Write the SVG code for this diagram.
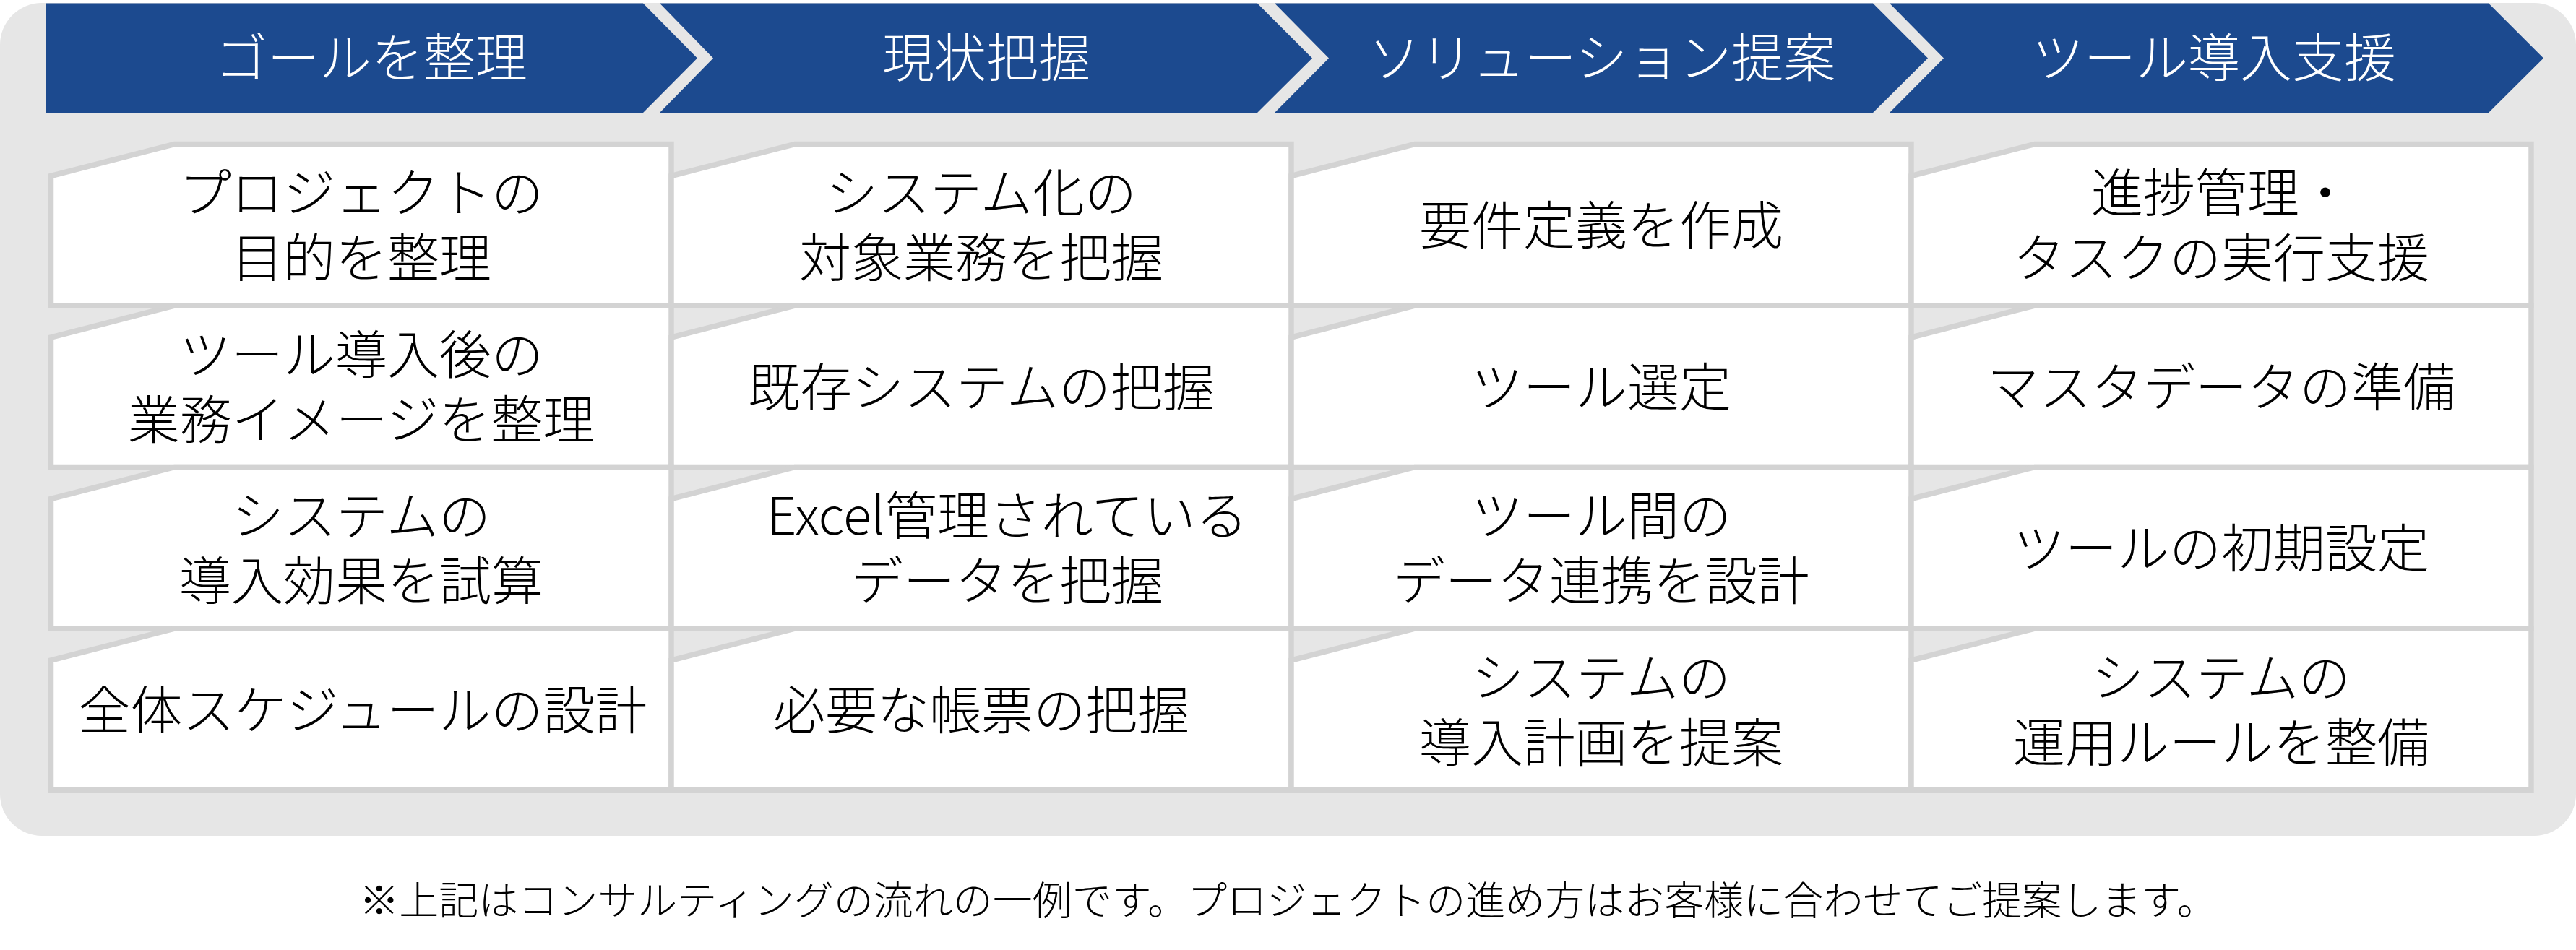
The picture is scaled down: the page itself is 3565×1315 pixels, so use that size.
<svg xmlns="http://www.w3.org/2000/svg" width="3565" height="1315" viewBox="0 0 3565 1315">
<style>
.bg{fill:#e6e6e6}
.chev{fill:#1c4a8f}
.ht{font-family:"Noto Sans CJK JP","Noto Sans",sans-serif;font-size:72px;font-weight:300;fill:#ffffff;text-anchor:middle}
.card{fill:#ffffff;stroke:#d3d3d3;stroke-width:7.5;stroke-linejoin:miter}
.ct{font-family:"Noto Sans CJK JP","Noto Sans",sans-serif;font-size:72px;font-weight:300;fill:#000000;text-anchor:middle}
.note{font-family:"Noto Sans CJK JP","Noto Sans",sans-serif;font-size:55px;font-weight:300;fill:#000000;text-anchor:middle}
</style>
<rect id="background" class="bg" x="0" y="4" width="3565" height="1153" rx="58" ry="58"/>
<g id="phases">
<g id="phase1"><polygon class="chev" points="64,4.5 890,4.5 965,80.5 890,156 64,156"/><text class="ht" x="514" y="106">ゴールを整理</text></g>
<g id="phase2"><polygon class="chev" points="913,4.5 1740,4.5 1816,80.5 1740,156 913,156 987,80.5"/><text class="ht" x="1365" y="106">現状把握</text></g>
<g id="phase3"><polygon class="chev" points="1764,4.5 2592,4.5 2668,80.5 2592,156 1764,156 1839,80.5"/><text class="ht" x="2217" y="106">ソリューション提案</text></g>
<g id="phase4"><polygon class="chev" points="2615,4.5 3444,4.5 3520,80.5 3444,156 2615,156 2690,80.5"/><text class="ht" x="3064" y="106">ツール導入支援</text></g>
</g>
<g id="connectors"></g>
<g id="cards">
<g id="c11"><polygon class="card" points="241.5,199.5 929,199.5 929,423 70.5,423 70.5,243.5"/><text class="ct"><tspan x="500" y="293">プロジェクトの</tspan><tspan x="500" y="383">目的を整理</tspan></text></g>
<g id="c12"><polygon class="card" points="1100,199.5 1787,199.5 1787,423 929,423 929,243.5"/><text class="ct"><tspan x="1358" y="293">システム化の</tspan><tspan x="1358" y="383">対象業務を把握</tspan></text></g>
<g id="c13"><polygon class="card" points="1958,199.5 2645,199.5 2645,423 1787,423 1787,243.5"/><text class="ct" x="2216" y="338">要件定義を作成</text></g>
<g id="c14"><polygon class="card" points="2816,199.5 3503,199.5 3503,423 2645,423 2645,243.5"/><text class="ct"><tspan x="3074" y="293">進捗管理・</tspan><tspan x="3074" y="383">タスクの実行支援</tspan></text></g>

<g id="c21"><polygon class="card" points="241.5,423 929,423 929,646.5 70.5,646.5 70.5,467"/><text class="ct"><tspan x="500" y="517">ツール導入後の</tspan><tspan x="500" y="607">業務イメージを整理</tspan></text></g>
<g id="c22"><polygon class="card" points="1100,423 1787,423 1787,646.5 929,646.5 929,467"/><text class="ct" x="1358" y="562">既存システムの把握</text></g>
<g id="c23"><polygon class="card" points="1958,423 2645,423 2645,646.5 1787,646.5 1787,467"/><text class="ct" x="2216" y="562">ツール選定</text></g>
<g id="c24"><polygon class="card" points="2816,423 3503,423 3503,646.5 2645,646.5 2645,467"/><text class="ct" x="3074" y="562">マスタデータの準備</text></g>

<g id="c31"><polygon class="card" points="241.5,646.5 929,646.5 929,870 70.5,870 70.5,690.5"/><text class="ct"><tspan x="500" y="740">システムの</tspan><tspan x="500" y="830">導入効果を試算</tspan></text></g>
<g id="c32"><polygon class="card" points="1100,646.5 1787,646.5 1787,870 929,870 929,690.5"/><text class="ct"><tspan x="1394" y="740">Excel管理されている</tspan><tspan x="1394" y="830">データを把握</tspan></text></g>
<g id="c33"><polygon class="card" points="1958,646.5 2645,646.5 2645,870 1787,870 1787,690.5"/><text class="ct"><tspan x="2216" y="740">ツール間の</tspan><tspan x="2216" y="830">データ連携を設計</tspan></text></g>
<g id="c34"><polygon class="card" points="2816,646.5 3503,646.5 3503,870 2645,870 2645,690.5"/><text class="ct" x="3074" y="785">ツールの初期設定</text></g>

<g id="c41"><polygon class="card" points="241.5,870 929,870 929,1093.5 70.5,1093.5 70.5,914"/><text class="ct" x="502" y="1009">全体スケジュールの設計</text></g>
<g id="c42"><polygon class="card" points="1100,870 1787,870 1787,1093.5 929,1093.5 929,914"/><text class="ct" x="1358" y="1009">必要な帳票の把握</text></g>
<g id="c43"><polygon class="card" points="1958,870 2645,870 2645,1093.5 1787,1093.5 1787,914"/><text class="ct"><tspan x="2216" y="964">システムの</tspan><tspan x="2216" y="1054">導入計画を提案</tspan></text></g>
<g id="c44"><polygon class="card" points="2816,870 3503,870 3503,1093.5 2645,1093.5 2645,914"/><text class="ct"><tspan x="3074" y="964">システムの</tspan><tspan x="3074" y="1054">運用ルールを整備</tspan></text></g>
</g>
<text id="footnote" class="note" x="1782.5" y="1266">※上記はコンサルティングの流れの一例です。プロジェクトの進め方はお客様に合わせてご提案します。</text>
</svg>
